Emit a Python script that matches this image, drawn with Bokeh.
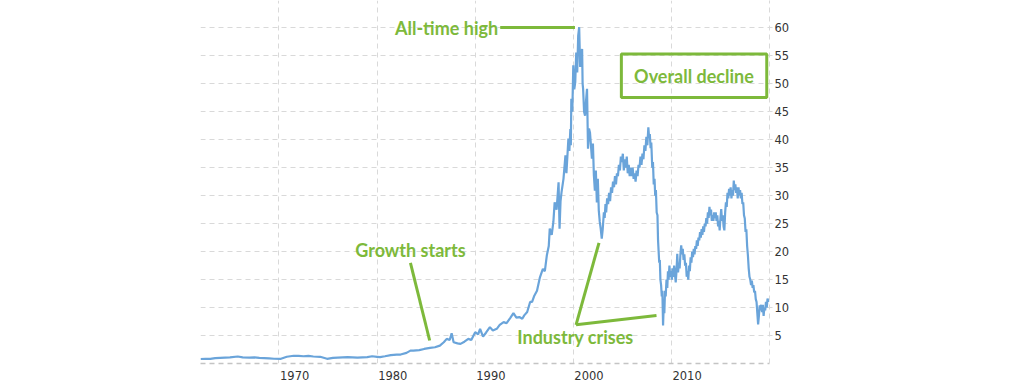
from bokeh.plotting import figure
from bokeh.models import FixedTicker, ColumnDataSource
from bokeh.core.properties import value
from bokeh.embed import file_html
from bokeh.resources import INLINE

# ---- data, split by era ----
years_early = [
    1962.0, 1962.5, 1963.0, 1963.5, 1964.0, 1964.5, 1965.0, 1965.8, 1966.3, 1967.0,
    1967.5, 1968.0, 1968.5, 1969.0, 1969.5, 1970.2, 1970.8, 1971.5, 1972.0, 1972.5,
    1973.0, 1973.5, 1974.2, 1974.9, 1975.5, 1976.0, 1976.5, 1977.0, 1977.5, 1978.0,
    1978.5, 1979.0, 1979.5, 1980.0, 1980.3, 1980.8, 1981.4, 1982.0, 1982.4, 1983.0,
    1983.4, 1983.7, 1984.3, 1984.8, 1985.4, 1985.9, 1986.4, 1986.8, 1987.1, 1987.4,
    1987.6, 1987.8, 1988.2, 1988.5, 1988.9, 1989.3, 1989.6, 1990.0, 1990.3, 1990.5,
    1990.8, 1991.1, 1991.5, 1991.8, 1992.2, 1992.5, 1992.9, 1993.2, 1993.6, 1993.9,
    1994.2, 1994.5, 1994.8, 1995.0, 1995.3, 1995.6, 1995.8, 1996.0, 1996.3, 1996.6,
    1996.9, 1997.1, 1997.3, 1997.5, 1997.6, 1997.8,
]
prices_early = [
    0.80, 0.85, 0.82, 0.95, 1.00, 1.05, 1.10, 1.25, 1.10, 1.05,
    1.10, 1.00, 0.95, 0.90, 0.85, 0.84, 1.20, 1.38, 1.35, 1.30,
    1.35, 1.25, 1.20, 0.84, 1.00, 1.05, 1.10, 1.14, 1.10, 1.05,
    1.10, 1.15, 1.30, 1.20, 1.14, 1.30, 1.50, 1.60, 1.60, 1.90,
    2.30, 2.30, 2.40, 2.60, 2.80, 2.90, 3.20, 3.80, 4.40, 4.20,
    5.40, 3.80, 3.60, 3.50, 3.90, 4.40, 4.20, 5.60, 5.20, 6.20,
    4.80, 5.50, 6.50, 5.90, 6.20, 6.90, 7.40, 7.20, 8.20, 9.00,
    8.20, 8.30, 8.00, 8.60, 9.20, 11.0, 11.0, 12.0, 13.0, 15.4,
    16.9, 16.5, 19.3, 21.0, 24.1, 23.0,
]

years_peak = [
    1997.97, 1998.1, 1998.3, 1998.5, 1998.6, 1998.7, 1998.8, 1999.0, 1999.2, 1999.3,
    1999.5, 1999.6, 1999.7, 1999.75, 1999.8, 1999.9, 2000.0, 2000.1, 2000.2, 2000.3,
    2000.4, 2000.5, 2000.6, 2000.7, 2000.75, 2000.9, 2000.95, 2001.0, 2001.1, 2001.2,
    2001.3, 2001.4, 2001.5, 2001.6, 2001.7, 2001.8, 2001.9, 2002.0, 2002.1, 2002.2,
    2002.3, 2002.4, 2002.5, 2002.6, 2002.7, 2002.8, 2002.9, 2003.0,
]
prices_peak = [
    25.3, 28.8, 27.5, 32.4, 24.1, 29.0, 30.6, 33.0, 37.2, 34.0,
    40.2, 38.0, 41.9, 39.0, 47.3, 45.0, 53.3, 49.0, 50.3, 55.6,
    52.0, 58.6, 60.1, 53.0, 55.0, 56.2, 50.0, 49.1, 45.0, 44.3,
    47.0, 49.1, 38.4, 42.0, 41.3, 39.0, 36.6, 39.3, 33.6, 30.9,
    34.5, 28.8, 33.0, 27.3, 25.3, 24.0, 22.3, 24.0,
]

years_mid = [
    2003.05, 2003.12, 2003.2, 2003.28, 2003.35, 2003.45, 2003.55, 2003.65, 2003.75, 2003.85,
    2003.95, 2004.05, 2004.15, 2004.25, 2004.35, 2004.45, 2004.55, 2004.65, 2004.75, 2004.85,
    2004.95, 2005.05, 2005.15, 2005.25, 2005.35, 2005.45, 2005.55, 2005.65, 2005.75, 2005.85,
    2005.95, 2006.05, 2006.15, 2006.25, 2006.35, 2006.45, 2006.55, 2006.65, 2006.75, 2006.85,
    2006.95, 2007.05, 2007.15, 2007.25, 2007.35, 2007.45, 2007.55, 2007.65, 2007.72, 2007.8,
    2007.88, 2007.95, 2008.05, 2008.12, 2008.2, 2008.28, 2008.35, 2008.42, 2008.5, 2008.58,
    2008.64, 2008.7, 2008.76, 2008.82, 2008.88, 2008.95, 2009.02, 2009.08,
]
prices_mid = [
    25.3, 27.0, 26.0, 28.5, 27.0, 29.5, 28.5, 30.5, 29.0, 31.5,
    30.5, 32.5, 31.5, 33.5, 32.0, 34.0, 33.5, 35.5, 34.5, 37.0,
    36.0, 37.5, 34.5, 36.5, 35.0, 37.0, 34.0, 35.5, 33.5, 35.0,
    33.5, 35.0, 33.0, 34.0, 32.5, 34.5, 33.5, 35.5, 35.0, 37.0,
    35.5, 37.5, 36.5, 39.0, 38.0, 40.5, 39.0, 42.2, 40.5, 41.0,
    38.5, 39.5, 35.0, 36.0, 32.0, 33.0, 30.0, 31.0, 27.0, 26.5,
    22.0, 20.0, 18.0, 18.5, 15.0, 14.0, 12.0, 13.0,
]

years_late = [
    2009.15, 2009.22, 2009.28, 2009.35, 2009.42, 2009.5, 2009.58, 2009.65, 2009.72, 2009.8,
    2009.88, 2009.95, 2010.05, 2010.12, 2010.2, 2010.28, 2010.36, 2010.44, 2010.52, 2010.6,
    2010.68, 2010.76, 2010.84, 2010.92, 2011.0, 2011.08, 2011.16, 2011.24, 2011.32, 2011.4,
    2011.48, 2011.56, 2011.64, 2011.72, 2011.8, 2011.88, 2011.96, 2012.04, 2012.12, 2012.2,
    2012.28, 2012.36, 2012.44, 2012.52, 2012.6, 2012.68, 2012.76, 2012.84, 2012.92, 2013.0,
    2013.08, 2013.16, 2013.24, 2013.32, 2013.4, 2013.48, 2013.56, 2013.64, 2013.72, 2013.8,
    2013.88, 2013.96, 2014.04, 2014.12, 2014.2, 2014.28, 2014.36, 2014.44, 2014.52, 2014.6,
    2014.68, 2014.76, 2014.84, 2014.92, 2015.0, 2015.08, 2015.16, 2015.24, 2015.32, 2015.4,
    2015.48, 2015.56, 2015.64, 2015.72, 2015.8, 2015.88, 2015.96, 2016.04, 2016.12, 2016.2,
    2016.28, 2016.36, 2016.44, 2016.52, 2016.6, 2016.68, 2016.76, 2016.84, 2016.92, 2017.0,
    2017.08, 2017.16, 2017.24, 2017.32, 2017.4, 2017.48, 2017.56, 2017.64, 2017.72, 2017.8,
    2017.88, 2017.96, 2018.04, 2018.12, 2018.2, 2018.28, 2018.36, 2018.44, 2018.52, 2018.6,
    2018.68, 2018.76, 2018.84, 2018.92, 2019.0, 2019.08, 2019.16, 2019.24, 2019.32, 2019.4,
    2019.48, 2019.56, 2019.64, 2019.72, 2019.8, 2019.9,
]
prices_late = [
    6.8, 10.5, 9.0, 13.0, 12.0, 15.0, 13.5, 16.5, 15.0, 17.5,
    15.5, 16.5, 15.0, 17.0, 15.5, 17.5, 16.0, 14.5, 16.5, 19.6,
    16.3, 18.0, 17.0, 19.5, 21.1, 19.5, 20.5, 18.5, 19.5, 17.5,
    18.0, 15.5, 16.5, 15.0, 17.5, 16.5, 19.0, 18.0, 20.0, 19.0,
    20.5, 19.5, 21.0, 20.5, 22.0, 21.0, 22.5, 22.0, 23.5, 22.5,
    24.0, 23.0, 24.5, 23.5, 25.0, 24.5, 26.0, 25.0, 27.0, 26.0,
    28.0, 26.5, 27.5, 25.5, 26.5, 25.5, 27.0, 26.0, 27.0, 25.5,
    26.5, 24.5, 25.5, 23.8, 26.0, 27.6, 25.5, 26.5, 24.5, 23.8,
    27.0, 28.8, 28.0, 30.5, 29.5, 31.2, 30.0, 31.5, 29.5, 31.0,
    30.0, 32.7, 31.0, 32.0, 30.5, 31.5, 29.5, 31.5, 30.0, 31.0,
    29.5, 30.5, 28.5, 28.8, 26.5, 25.9, 23.5, 24.0, 21.0, 19.3,
    17.0, 15.5, 15.0, 14.0, 14.8, 13.5, 14.0, 12.7, 13.0, 11.5,
    11.0, 9.0, 7.0, 8.5, 10.4, 9.5, 10.5, 9.2, 10.5, 8.5,
    10.0, 9.5, 11.0, 10.0, 11.6, 11.0,
]

years = years_early + years_peak + years_mid + years_late
prices = prices_early + prices_peak + prices_mid + prices_late

x_tick_years = [1970, 1980, 1990, 2000, 2010]
x_tick_labels = ["1970", "1980", "1990", "2000", "2010"]
y_ticks = [5, 10, 15, 20, 25, 30, 35, 40, 45, 50, 55, 60]

# annotation texts
txt_high = "All-time high"
txt_decline = "Overall decline"
txt_growth = "Growth starts"
txt_crises = "Industry crises"

BLUE = "#6aa4da"
GREEN = "#7db93b"
GRID = "#d9d9d9"
LABEL_OFFSET = 1.6  # labels sit to the right of grid lines

p = figure(
    width=1030, height=387,
    x_range=(1962.0, 2020.0), y_range=(0, 64.88),
    output_backend="svg", toolbar_location=None,
    y_axis_location="right",
    min_border_left=200, min_border_right=261,
    min_border_top=0, min_border_bottom=24,
)
p.outline_line_color = None
p.background_fill_color = "white"
p.border_fill_color = "white"

# x axis: labels offset right of grid lines
label_pos = [y + LABEL_OFFSET for y in x_tick_years]
p.xaxis.ticker = FixedTicker(ticks=label_pos)
p.xaxis.major_label_overrides = {pos: lab for pos, lab in zip(label_pos, x_tick_labels)}
p.xgrid.ticker = FixedTicker(ticks=x_tick_years)
p.xaxis.major_tick_out = 0
p.xaxis.major_tick_in = 0
p.xaxis.minor_tick_out = 0
p.xaxis.minor_tick_in = 0
p.xaxis.major_label_standoff = 7
p.xaxis.axis_line_color = "#c4c4c4"
p.xaxis.axis_line_dash = "5 4"
p.xaxis.axis_line_width = 1.5

p.yaxis.ticker = FixedTicker(ticks=y_ticks)
p.yaxis.major_tick_out = 3
p.yaxis.major_tick_in = 0
p.yaxis.minor_tick_out = 0
p.yaxis.minor_tick_in = 0
p.yaxis.major_tick_line_color = GRID
p.yaxis.major_label_standoff = 2
p.yaxis.axis_line_color = GRID
p.yaxis.axis_line_dash = "5 4"

for ax in (p.xaxis, p.yaxis):
    ax.major_label_text_font = "DejaVu Sans"
    ax.major_label_text_font_size = "11.5px"
    ax.major_label_text_color = "#333333"

for g in (p.xgrid, p.ygrid):
    g.grid_line_color = GRID
    g.grid_line_dash = "5 4"
    g.grid_line_width = 1

src = ColumnDataSource(dict(x=years, y=prices))
p.line("x", "y", source=src, line_color=BLUE, line_width=2.2)

# ---- annotations ----
font = value("Lato")
p.text(x=[1992.34], y=[60.05], text=[txt_high], text_font=font, text_font_size="18px",
       text_font_style="bold", text_color=GREEN, text_align="right", text_baseline="middle")
p.segment(x0=[1992.55], y0=[60.05], x1=[2000.17], y1=[60.05], line_color=GREEN, line_width=3)

p.quad(left=[2004.9], right=[2019.72], top=[55.3], bottom=[47.55], fill_color=None,
       line_color=GREEN, line_width=3)
p.text(x=[2012.3], y=[51.42], text=[txt_decline], text_font=font, text_font_size="18px",
       text_font_style="bold", text_color=GREEN, text_align="center", text_baseline="middle")

p.text(x=[1983.4], y=[20.32], text=[txt_growth], text_font=font, text_font_size="18px",
       text_font_style="bold", text_color=GREEN, text_align="center", text_baseline="middle")
p.segment(x0=[1983.4], y0=[18.0], x1=[1985.36], y1=[4.11], line_color=GREEN, line_width=3)

p.text(x=[2000.22], y=[4.70], text=[txt_crises], text_font=font, text_font_size="18px",
       text_font_style="bold", text_color=GREEN, text_align="center", text_baseline="middle")
p.segment(x0=[2000.28, 2000.28], y0=[6.92, 6.92], x1=[2002.62, 2008.48], y1=[21.57, 8.58],
          line_color=GREEN, line_width=3)

open("out.html", "w").write(file_html(p, INLINE))
